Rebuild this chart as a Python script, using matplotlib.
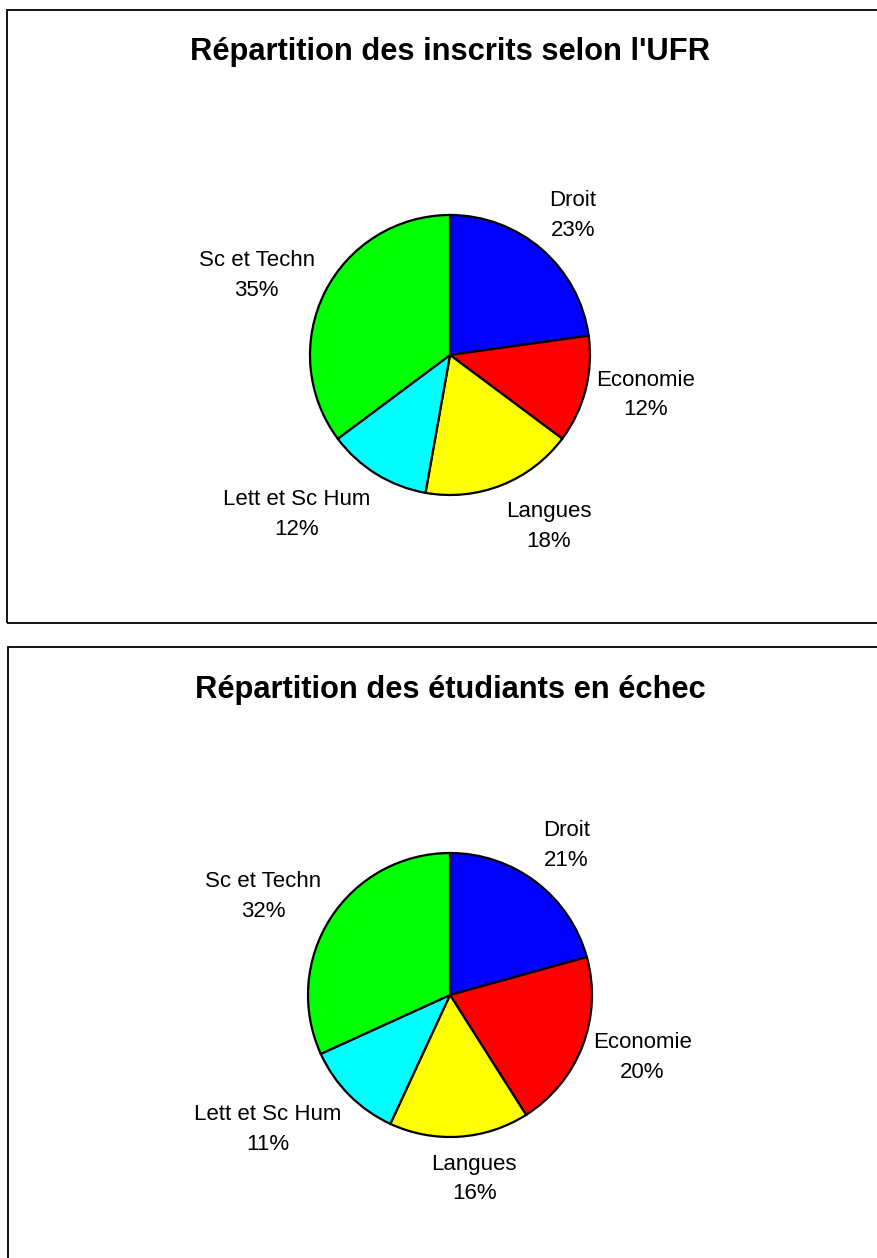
import numpy as np
import matplotlib.pyplot as plt
from matplotlib.patches import Rectangle

plt.rcParams['font.family'] = ['Liberation Sans', 'DejaVu Sans']

# data
ufr = ["Droit", "Economie", "Langues", "Lett et Sc Hum", "Sc et Techn"]
inscrits_pct = [22.8, 12.4, 17.6, 12.0, 35.2]
echec_pct = [20.7, 20.3, 15.9, 11.3, 31.8]
titles = ["Répartition des inscrits selon l'UFR", "Répartition des étudiants en échec"]
colors = ["#0000FF", "#FF0000", "#FFFF00", "#00FFFF", "#00FF00"]

W, H = 878, 1258
DPI = 100
fig = plt.figure(figsize=(W / DPI, H / DPI), dpi=DPI)
renderer = fig.canvas.get_renderer()


def px_axes(cx, cy, r):
    # axes in figure fraction from pixel centre / radius
    return fig.add_axes([(cx - r) / W, 1 - (cy + r) / H, 2 * r / W, 2 * r / H])


def draw_panel(values, title, box_top, box_bottom, box_left, cx, cy, r, title_y):
    # outer frame (right/bottom edges run off the picture)
    fig.patches.append(Rectangle((box_left / W, 1 - box_bottom / H),
                                 (W + 20 - box_left) / W, (box_bottom - box_top) / H,
                                 transform=fig.transFigure, fill=False,
                                 edgecolor="black", linewidth=1.3))
    fig.text(450 / W, 1 - title_y / H, title, ha="center", va="center",
             fontsize=22.2, fontweight="bold")

    ax = px_axes(cx, cy, r)
    wedges, _ = ax.pie(values, colors=colors, startangle=90, counterclock=False,
                       wedgeprops=dict(edgecolor="black", linewidth=1.6))
    ax.set_xlim(-1, 1)
    ax.set_ylim(-1, 1)
    ax.set_aspect("equal")
    ax.axis("off")

    # excel-like outside labels: box pushed away from the pie along the mid angle
    for w, name, v in zip(wedges, ufr, values):
        ang = np.deg2rad((w.theta1 + w.theta2) / 2)
        c, s = np.cos(ang), np.sin(ang)
        t = ax.annotate(f"{name}\n{v:.0f}%", xy=(1.08 * c, 1.08 * s),
                        xytext=(0, 0), textcoords="offset points",
                        ha="center", va="center", multialignment="center",
                        fontsize=16, linespacing=1.55, annotation_clip=False)
        bb = t.get_window_extent(renderer=renderer)
        fx = np.clip(5 * c, -1, 1)
        fy = np.sign(s) * np.clip(1.8 * abs(s) - 0.35, 0, 1.1)
        if s < -0.6:
            fy -= 0.12  # lower labels sit a touch further out
        t.xyann = (fx * bb.width / 2 * 72 / DPI, fy * bb.height / 2 * 72 / DPI)


draw_panel(inscrits_pct, titles[0], 10, 623, 7, 450, 355, 140, 52)
draw_panel(echec_pct, titles[1], 647, H + 20, 8, 450, 995, 142, 690)

fig.savefig("out.png", dpi=DPI)
